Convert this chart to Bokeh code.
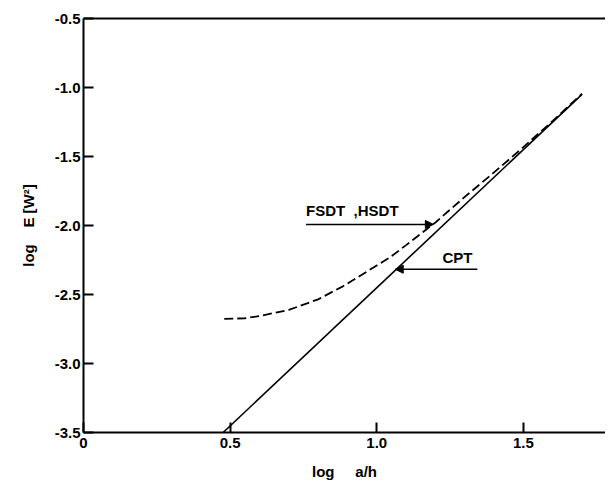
from bokeh.plotting import figure
from bokeh.models import FixedTicker, LinearAxis, Label, Arrow, NormalHead
from bokeh.embed import file_html
from bokeh.resources import INLINE

# ---- data ----
x_cpt = [0.476, 1.70]
y_cpt = [-3.50, -1.05]

x_fsdt = [0.48, 0.55, 0.60, 0.70, 0.80, 0.886, 1.00, 1.046, 1.10, 1.20, 1.30, 1.40, 1.50, 1.60, 1.70]
y_fsdt = [-2.677, -2.672, -2.656, -2.612, -2.535, -2.439, -2.29, -2.23, -2.142, -1.978, -1.793, -1.615, -1.432, -1.242, -1.045]

x_ticks = [0, 0.5, 1.0, 1.5]
x_tick_labels = ["0", "0.5", "1.0", "1.5"]
y_ticks = [-3.5, -3.0, -2.5, -2.0, -1.5, -1.0, -0.5]
y_tick_labels = ["-3.5", "-3.0", "-2.5", "-2.0", "-1.5", "-1.0", "-0.5"]

label_fsdt = "FSDT\u00a0\u00a0,HSDT"
label_cpt = "CPT"
fsdt_text_pos = (0.759, -1.955)
fsdt_arrow = (0.759, 1.193, -1.992)   # x_start, x_end, y
cpt_text_pos = (1.224, -2.292)
cpt_arrow = (1.343, 1.063, -2.317)

FONT = "Liberation Sans"
NB = "\u00a0"

p = figure(width=605, height=482, x_range=(0, 1.78), y_range=(-3.5, -0.5),
           output_backend="svg", toolbar_location=None,
           min_border_left=83, min_border_top=18, min_border_bottom=48, min_border_right=0)
p.grid.visible = False
p.outline_line_color = None
p.background_fill_color = "white"
p.border_fill_color = "white"

for ax in (p.xaxis[0], p.yaxis[0]):
    ax.axis_line_width = 2
    ax.axis_line_color = "black"
    ax.major_tick_in = 10
    ax.major_tick_out = 0
    ax.major_tick_line_width = 2
    ax.minor_tick_line_color = None
    ax.major_label_text_font = FONT
    ax.major_label_text_font_style = "bold"
    ax.major_label_text_font_size = "15px"
    ax.major_label_text_color = "black"
    ax.axis_label_text_font = FONT
    ax.axis_label_text_font_style = "bold"
    ax.axis_label_text_font_size = "15px"
    ax.axis_label_text_color = "black"

p.xaxis[0].ticker = FixedTicker(ticks=x_ticks)
p.xaxis[0].major_label_overrides = dict(zip(x_ticks, x_tick_labels))
p.xaxis[0].major_label_standoff = 5
p.xaxis[0].axis_label = "log" + NB * 5 + "a/h"
p.xaxis[0].axis_label_standoff = 12

p.yaxis[0].ticker = FixedTicker(ticks=y_ticks)
p.yaxis[0].major_label_overrides = dict(zip(y_ticks, y_tick_labels))
p.yaxis[0].major_label_standoff = 3
p.yaxis[0].axis_label = "log" + NB * 4 + "E" + NB + "[W\u00b2]"
p.yaxis[0].axis_label_standoff = 15

top = LinearAxis(ticker=FixedTicker(ticks=[]), major_tick_in=0, major_tick_out=0,
                 minor_tick_line_color=None, major_label_standoff=0,
                 axis_line_width=2, axis_line_color="black")
p.add_layout(top, "above")

p.line(x_cpt, y_cpt, line_color="black", line_width=1.6)
p.line(x_fsdt, y_fsdt, line_color="black", line_width=1.8, line_dash="9 4")

for txt, (tx, ty) in ((label_fsdt, fsdt_text_pos), (label_cpt, cpt_text_pos)):
    p.add_layout(Label(x=tx, y=ty, text=txt, text_font=FONT, text_font_style="bold",
                       text_font_size="15px", text_color="black"))

for (xs, xe, yy) in (fsdt_arrow, cpt_arrow):
    p.add_layout(Arrow(x_start=xs, y_start=yy, x_end=xe, y_end=yy, line_width=1.5,
                       line_color="black",
                       end=NormalHead(size=8, fill_color="black", line_color="black")))

open("out.html", "w").write(file_html(p, INLINE))
